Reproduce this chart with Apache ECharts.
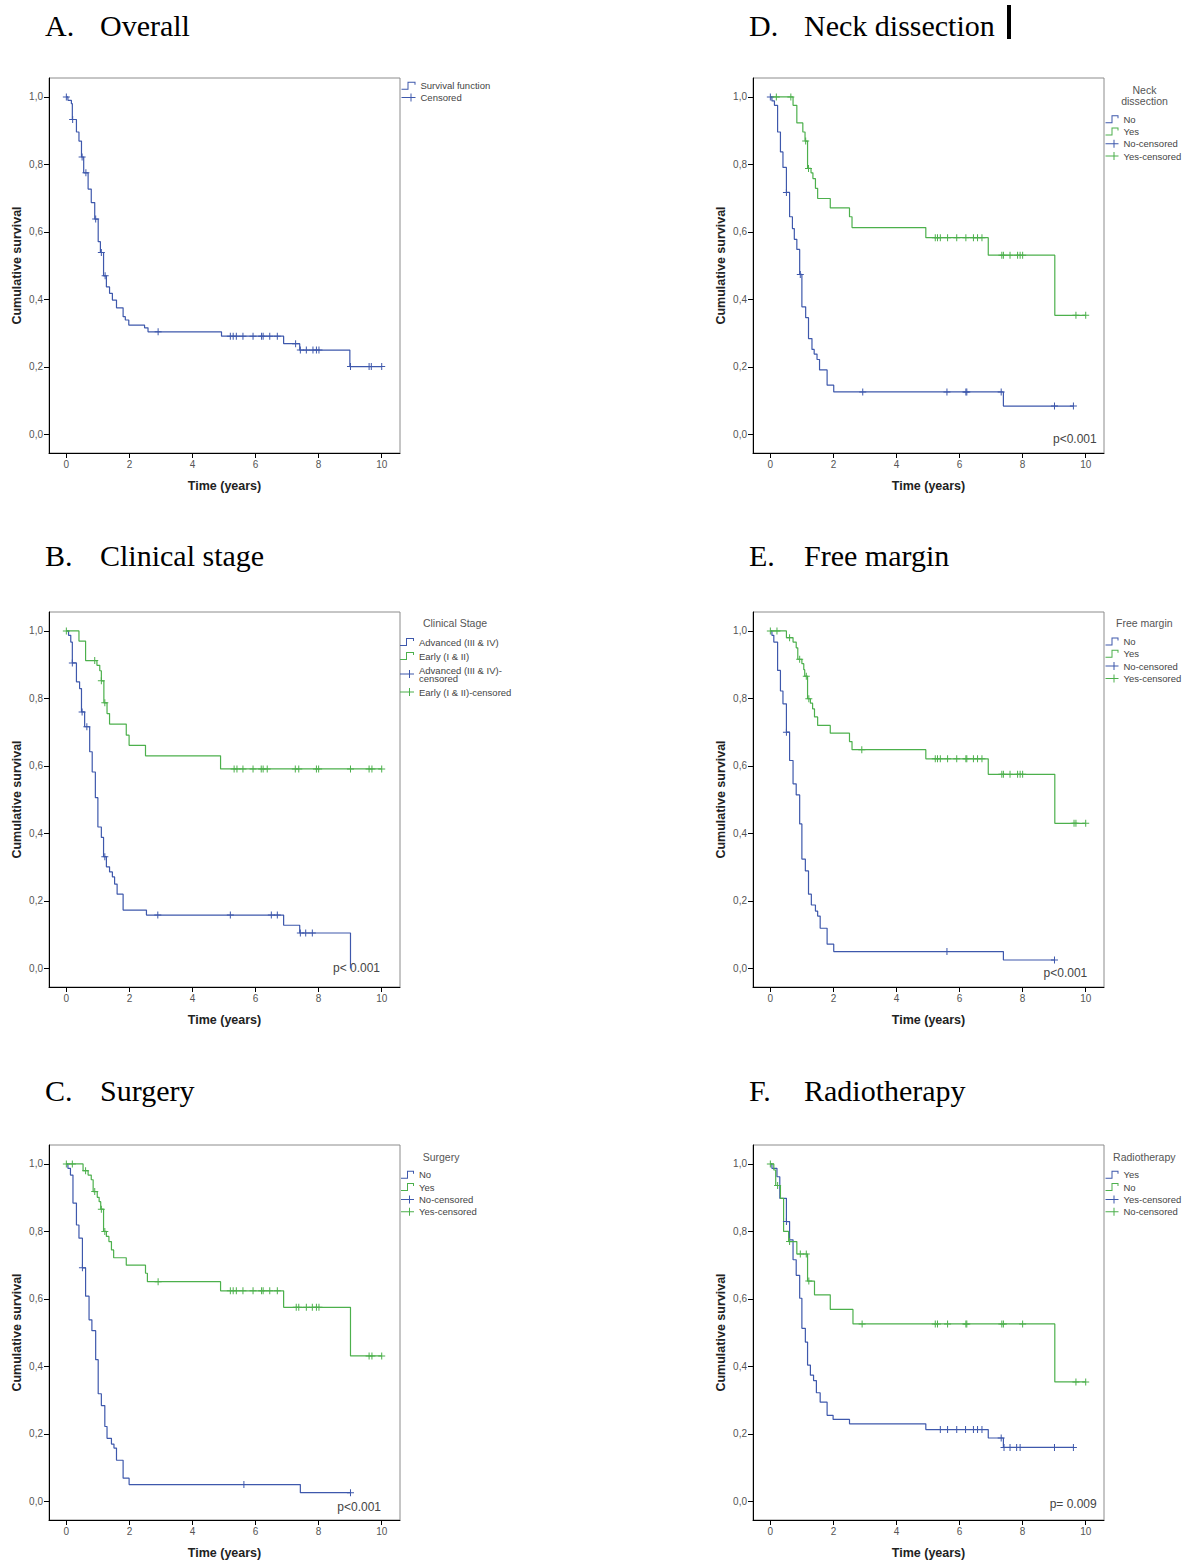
<!DOCTYPE html>
<html>
<head>
<meta charset="utf-8">
<title>Kaplan-Meier survival curves</title>
<script src="https://cdn.jsdelivr.net/npm/echarts@6/dist/echarts.min.js"></script>
<style>
  html, body { margin: 0; padding: 0; background: #fff; }
  #km { width: 1194px; height: 1562px; }
</style>
</head>
<body>
<div id="km"></div>
<script>
// tick labels
var xTickValues = [0, 2, 4, 6, 8, 10];
var yTickValues = [0, 0.2, 0.4, 0.6, 0.8, 1.0];

// A. Overall
var overallTimes = [0.05, 0.16, 0.19, 0.32, 0.40, 0.48, 0.55, 0.69, 0.79, 0.90, 1.01, 1.08, 1.18, 1.27, 1.37, 1.46, 1.59, 1.80, 1.87, 1.98, 2.48, 2.59, 4.92, 6.89, 7.40, 8.99];
var overallSurv = [0.990, 0.980, 0.933, 0.896, 0.869, 0.822, 0.775, 0.727, 0.687, 0.638, 0.571, 0.539, 0.470, 0.437, 0.418, 0.398, 0.375, 0.349, 0.339, 0.324, 0.316, 0.304, 0.291, 0.269, 0.250, 0.201];
var overallCens = [0, 0.20, 0.50, 0.62, 0.93, 1.11, 1.23, 2.91, 5.20, 5.29, 5.39, 5.60, 5.92, 6.19, 6.24, 6.45, 6.69, 7.27, 7.42, 7.61, 7.82, 7.93, 8.01, 9.01, 9.60, 9.67, 10.0];

// B. Clinical stage
var stageAdvTimes = [0.07, 0.14, 0.19, 0.32, 0.42, 0.48, 0.58, 0.74, 0.82, 0.92, 1.00, 1.11, 1.18, 1.27, 1.37, 1.46, 1.53, 1.61, 1.80, 2.54, 6.89, 7.40, 9.01];
var stageAdvSurv = [0.987, 0.967, 0.905, 0.849, 0.829, 0.760, 0.716, 0.642, 0.582, 0.506, 0.419, 0.388, 0.331, 0.301, 0.286, 0.271, 0.250, 0.220, 0.173, 0.158, 0.128, 0.105, 0.0];
var stageAdvCens = [0.19, 0.50, 0.65, 1.22, 2.90, 5.20, 6.50, 6.69, 7.42, 7.59, 7.80];
var stageEarlyTimes = [0.40, 0.61, 0.97, 1.06, 1.11, 1.19, 1.29, 1.37, 1.90, 1.99, 2.51, 4.89];
var stageEarlySurv = [0.970, 0.912, 0.898, 0.882, 0.852, 0.787, 0.755, 0.724, 0.691, 0.661, 0.630, 0.591];
var stageEarlyCens = [0, 0.90, 1.11, 1.22, 5.32, 5.41, 5.60, 5.92, 6.18, 6.24, 6.37, 7.26, 7.37, 7.93, 8.00, 9.01, 9.60, 9.69, 10.0];

// C. Surgery
var surgNoTimes = [0.05, 0.13, 0.21, 0.32, 0.40, 0.51, 0.61, 0.72, 0.81, 0.93, 1.01, 1.11, 1.22, 1.29, 1.43, 1.51, 1.59, 1.80, 1.99, 7.42];
var surgNoSurv = [0.987, 0.967, 0.884, 0.819, 0.780, 0.692, 0.608, 0.538, 0.506, 0.420, 0.319, 0.284, 0.222, 0.187, 0.170, 0.158, 0.122, 0.069, 0.050, 0.026];
var surgNoCens = [0.51, 5.63, 9.01];
var surgYesTimes = [0.53, 0.69, 0.79, 0.85, 0.98, 1.04, 1.09, 1.18, 1.27, 1.35, 1.43, 1.50, 1.90, 2.51, 2.57, 4.89, 6.89, 9.01];
var surgYesSurv = [0.980, 0.967, 0.953, 0.918, 0.901, 0.888, 0.866, 0.800, 0.785, 0.770, 0.745, 0.722, 0.700, 0.676, 0.651, 0.624, 0.575, 0.431];
var surgYesCens = [0, 0.19, 0.61, 0.90, 1.11, 1.22, 2.91, 5.20, 5.29, 5.39, 5.60, 5.92, 6.19, 6.24, 6.45, 6.69, 7.29, 7.37, 7.61, 7.80, 7.93, 8.01, 9.60, 9.69, 10.0];

// D. Neck dissection
var neckNoTimes = [0.05, 0.13, 0.23, 0.32, 0.40, 0.51, 0.61, 0.70, 0.76, 0.84, 0.93, 1.00, 1.12, 1.21, 1.32, 1.39, 1.48, 1.56, 1.80, 2.01, 7.39];
var neckNoSurv = [0.988, 0.975, 0.896, 0.837, 0.791, 0.717, 0.645, 0.610, 0.578, 0.548, 0.474, 0.378, 0.346, 0.284, 0.252, 0.238, 0.222, 0.191, 0.146, 0.126, 0.084];
var neckNoCens = [0, 0.51, 0.95, 2.93, 5.60, 6.20, 6.23, 7.32, 9.01, 9.61];
var neckYesTimes = [0.72, 0.84, 1.03, 1.10, 1.18, 1.29, 1.35, 1.43, 1.50, 1.90, 2.51, 2.59, 4.93, 6.91, 9.02];
var neckYesSurv = [0.975, 0.923, 0.896, 0.869, 0.788, 0.775, 0.758, 0.729, 0.699, 0.671, 0.645, 0.613, 0.583, 0.531, 0.353];
var neckYesCens = [0.19, 0.65, 1.12, 1.21, 5.23, 5.30, 5.39, 5.62, 5.91, 6.20, 6.44, 6.57, 6.71, 7.34, 7.39, 7.60, 7.84, 7.92, 8.00, 9.69, 10.0];

// E. Free margin
var marginNoTimes = [0.05, 0.11, 0.23, 0.32, 0.40, 0.51, 0.61, 0.72, 0.82, 0.93, 1.00, 1.11, 1.21, 1.30, 1.43, 1.50, 1.58, 1.80, 2.01, 7.39];
var marginNoSurv = [0.987, 0.967, 0.883, 0.822, 0.784, 0.700, 0.616, 0.547, 0.514, 0.428, 0.324, 0.289, 0.220, 0.188, 0.170, 0.155, 0.119, 0.072, 0.050, 0.025];
var marginNoCens = [0.51, 5.60, 9.01];
var marginYesTimes = [0.51, 0.72, 0.82, 0.87, 1.00, 1.06, 1.09, 1.18, 1.27, 1.34, 1.40, 1.50, 1.90, 2.51, 2.59, 4.93, 6.91, 9.02];
var marginYesSurv = [0.980, 0.967, 0.950, 0.916, 0.903, 0.885, 0.866, 0.799, 0.786, 0.769, 0.745, 0.720, 0.697, 0.672, 0.648, 0.621, 0.575, 0.430];
var marginYesCens = [0, 0.21, 0.61, 0.93, 1.14, 1.22, 2.90, 5.23, 5.30, 5.39, 5.62, 5.91, 6.20, 6.23, 6.44, 6.57, 6.71, 7.34, 7.39, 7.60, 7.84, 7.92, 8.00, 9.63, 9.69, 10.0];

// F. Radiotherapy
var radioYesTimes = [0.05, 0.21, 0.30, 0.51, 0.61, 0.72, 0.82, 0.93, 1.00, 1.11, 1.18, 1.27, 1.37, 1.46, 1.58, 1.80, 1.99, 2.51, 4.93, 6.91, 7.39];
var radioYesSurv = [0.987, 0.962, 0.898, 0.829, 0.775, 0.716, 0.670, 0.602, 0.513, 0.472, 0.404, 0.374, 0.358, 0.322, 0.294, 0.255, 0.243, 0.230, 0.213, 0.188, 0.160];
var radioYesCens = [0.51, 5.39, 5.62, 5.91, 6.19, 6.44, 6.57, 6.71, 7.32, 7.41, 7.60, 7.81, 7.92, 9.01, 9.61];
var radioNoTimes = [0.11, 0.17, 0.32, 0.42, 0.58, 0.84, 1.18, 1.40, 1.90, 2.62, 9.02];
var radioNoSurv = [0.982, 0.936, 0.898, 0.800, 0.770, 0.733, 0.653, 0.612, 0.569, 0.526, 0.354];
var radioNoCens = [0, 0.23, 0.61, 0.95, 1.14, 1.22, 2.91, 5.23, 5.30, 5.62, 6.20, 6.23, 7.34, 7.39, 8.00, 9.69, 10.0];

var BLUE = '#3e58ac';
var GREEN = '#4cb04c';
var SANS = '"Liberation Sans", Arial, sans-serif';
var SERIF = '"Liberation Serif", "Times New Roman", serif';
var PLUS = 'path://M3,0 L4,0 L4,3 L7,3 L7,4 L4,4 L4,7 L3,7 L3,4 L0,4 L0,3 L3,3 Z';

// survival level just after time t
function survAt(times, surv, t) {
	var s = 1;
	for (var i = 0; i < times.length; i++) {
		if (times[i] <= t + 1e-9) s = surv[i];
	}
	return s;
}
function stepPoints(times, surv, cens) {
	var pts = [[0, 1]];
	for (var i = 0; i < times.length; i++) pts.push([times[i], surv[i]]);
	var lastC = cens.length ? cens[cens.length - 1] : 0;
	if (lastC > times[times.length - 1]) pts.push([lastC, surv[surv.length - 1]]);
	return pts;
}
function censPoints(times, surv, cens) {
	return cens.map(function (t) { return [t, survAt(times, surv, t)]; });
}
// SPSS-like legend glyphs, drawn as 1px outlines
function stepIcon(w) {
	var m = Math.round(w * 0.45);
	return 'path://M0,7 L' + m + ',7 L' + m + ',0 L' + w + ',0 L' + w + ',3 L' + (w - 1) + ',3 L' + (w - 1) + ',1 L' + (m + 1) + ',1 L' + (m + 1) + ',8 L0,8 Z';
}
function plusIcon(w) {
	var m = Math.round(w * 0.65);
	return 'path://M0,3.5 L' + m + ',3.5 L' + m + ',0 L' + (m + 1) + ',0 L' + (m + 1) + ',3.5 L' + w + ',3.5 L' + w + ',4.5 L' + (m + 1) + ',4.5 L' + (m + 1) + ',8 L' + m + ',8 L' + m + ',4.5 L0,4.5 Z';
}

/* panel layout */
var panels = [
	{ key: 'A', letter: 'A.', title: 'Overall', left: 49, top: 78, hx: 45, hy: 25.5,
	  lg: { left: 401.5, top: 80.8, iw: 14, lh: 9, gap: 1.7 },
	  groups: [{ name: 'Survival function', cens: 'Censored', color: BLUE, t: overallTimes, s: overallSurv, c: overallCens }] },
	{ key: 'B', letter: 'B.', title: 'Clinical stage', left: 49, top: 612, hx: 45, hy: 555.5,
	  lg: { left: 400, top: 637, iw: 14, lh: 8, gap: 4 }, head: 'Clinical Stage', headX: 455, headY: 623.3,
	  pval: 'p< 0.001', px: 380, py: 968.3,
	  groups: [{ name: 'Advanced (III & IV)', cens: 'Advanced (III & IV)-censored', label: 'Advanced (III & IV)-\ncensored', color: BLUE, t: stageAdvTimes, s: stageAdvSurv, c: stageAdvCens },
	           { name: 'Early (I & II)', cens: 'Early (I & II)-censored', color: GREEN, t: stageEarlyTimes, s: stageEarlySurv, c: stageEarlyCens }] },
	{ key: 'C', letter: 'C.', title: 'Surgery', left: 49, top: 1145, hx: 45, hy: 1090.5,
	  lg: { left: 401, top: 1169.8, iw: 13, lh: 9, gap: 2.3 }, head: 'Surgery', headX: 441, headY: 1157.3,
	  pval: 'p<0.001', px: 381, py: 1507.3,
	  groups: [{ name: 'No', cens: 'No-censored', color: BLUE, t: surgNoTimes, s: surgNoSurv, c: surgNoCens },
	           { name: 'Yes', cens: 'Yes-censored', color: GREEN, t: surgYesTimes, s: surgYesSurv, c: surgYesCens }] },
	{ key: 'D', letter: 'D.', title: 'Neck dissection', left: 753, top: 78, hx: 749, hy: 25.5,
	  lg: { left: 1105.5, top: 114.2, iw: 13, lh: 9, gap: 2.3 }, head: 'Neck\ndissection', headX: 1144.5, headY: 95.5,
	  pval: 'p<0.001', px: 1096.7, py: 439,
	  groups: [{ name: 'No', cens: 'No-censored', color: BLUE, t: neckNoTimes, s: neckNoSurv, c: neckNoCens },
	           { name: 'Yes', cens: 'Yes-censored', color: GREEN, t: neckYesTimes, s: neckYesSurv, c: neckYesCens }] },
	{ key: 'E', letter: 'E.', title: 'Free margin', left: 753, top: 612, hx: 749, hy: 555.5,
	  lg: { left: 1105.5, top: 636.5, iw: 13, lh: 9, gap: 2.3 }, head: 'Free margin', headX: 1144.3, headY: 623.3,
	  pval: 'p<0.001', px: 1087.3, py: 973.3,
	  groups: [{ name: 'No', cens: 'No-censored', color: BLUE, t: marginNoTimes, s: marginNoSurv, c: marginNoCens },
	           { name: 'Yes', cens: 'Yes-censored', color: GREEN, t: marginYesTimes, s: marginYesSurv, c: marginYesCens }] },
	{ key: 'F', letter: 'F.', title: 'Radiotherapy', left: 753, top: 1145, hx: 749, hy: 1090.5,
	  lg: { left: 1105.5, top: 1169.8, iw: 13, lh: 9, gap: 2.3 }, head: 'Radiotherapy', headX: 1144.3, headY: 1157.3,
	  pval: 'p= 0.009', px: 1096.7, py: 1504.3,
	  groups: [{ name: 'Yes', cens: 'Yes-censored', color: BLUE, t: radioYesTimes, s: radioYesSurv, c: radioYesCens },
	           { name: 'No', cens: 'No-censored', color: GREEN, t: radioNoTimes, s: radioNoSurv, c: radioNoCens }] }
];

var chart = echarts.init(document.getElementById('km'), null, { renderer: 'svg' });

var grids = [], xAxes = [], yAxes = [], legends = [], series = [], graphics = [];
var labelMap = {};

panels.forEach(function (p, i) {
	grids.push({
		left: p.left, top: p.top, width: 351, height: 375,
		show: true, borderColor: '#8c8c8c', borderWidth: 1,
		containLabel: false, outerBoundsMode: 'none'
	});
	xAxes.push({
		type: 'value', gridIndex: i, min: -0.55, max: 10.58,
		name: 'Time (years)', nameLocation: 'middle', nameGap: 26,
		nameTextStyle: { fontFamily: SANS, fontSize: 12.5, fontWeight: 'bold', color: '#222' },
		axisLine: { show: true, onZero: false, lineStyle: { color: '#000', width: 1 } },
		axisTick: { show: true, customValues: xTickValues, length: 5, inside: false, lineStyle: { color: '#000' } },
		axisLabel: { customValues: xTickValues, margin: 6, fontSize: 10, color: '#555', fontFamily: SANS },
		splitLine: { show: false }
	});
	yAxes.push({
		type: 'value', gridIndex: i, min: -0.055, max: 1.056,
		name: 'Cumulative survival', nameLocation: 'middle', nameGap: 26,
		nameTextStyle: { fontFamily: SANS, fontSize: 12.5, fontWeight: 'bold', color: '#222' },
		axisLine: { show: true, onZero: false, lineStyle: { color: '#000', width: 1 } },
		axisTick: { show: true, customValues: yTickValues, length: 5, inside: false, lineStyle: { color: '#000' } },
		axisLabel: {
			customValues: yTickValues, margin: 6, fontSize: 10, color: '#555', fontFamily: SANS,
			formatter: function (v) { return v.toFixed(1).replace('.', ','); }
		},
		splitLine: { show: false }
	});

	var lineNames = [], censNames = [];
	p.groups.forEach(function (g) {
		var ln = p.key + '|' + g.name, cn = p.key + '|' + g.cens;
		if (g.label) labelMap[cn] = g.label;
		lineNames.push({ name: ln, icon: stepIcon(p.lg.iw) });
		censNames.push({ name: cn, icon: plusIcon(p.lg.iw) });
		series.push({
			type: 'line', name: ln, xAxisIndex: i, yAxisIndex: i,
			step: 'end', symbol: 'none', showSymbol: false,
			lineStyle: { color: g.color, width: 1.2 },
			itemStyle: { color: g.color },
			data: stepPoints(g.t, g.s, g.c)
		});
		series.push({
			type: 'scatter', name: cn, xAxisIndex: i, yAxisIndex: i,
			symbol: PLUS, symbolSize: 7,
			itemStyle: { color: g.color, opacity: 1 },
			data: censPoints(g.t, g.s, g.c),
			z: 3
		});
	});

	legends.push({
		orient: 'vertical', left: p.lg.left, top: p.lg.top, padding: 0,
		itemWidth: p.lg.iw, itemHeight: 8, itemGap: p.lg.gap,
		selectedMode: false, symbolKeepAspect: false,
		itemStyle: { borderWidth: 0 },
		textStyle: { fontFamily: SANS, fontSize: 9.5, color: '#444', lineHeight: p.lg.lh },
		formatter: function (name) { return labelMap[name] || name.split('|')[1]; },
		data: lineNames.concat(censNames)
	});

	// panel heading
	graphics.push({ type: 'text', x: p.hx, y: p.hy, style: { text: p.letter, font: '30px ' + SERIF, fill: '#000', textAlign: 'left', textVerticalAlign: 'middle' } });
	graphics.push({ type: 'text', x: p.hx + 55, y: p.hy, style: { text: p.title, font: '30px ' + SERIF, fill: '#000', textAlign: 'left', textVerticalAlign: 'middle' } });
	if (p.head) {
		graphics.push({ type: 'text', x: p.headX, y: p.headY, style: { text: p.head, font: '10.5px ' + SANS, fill: '#555', lineHeight: 11, textAlign: 'center', textVerticalAlign: 'middle' } });
	}
	if (p.pval) {
		graphics.push({ type: 'text', x: p.px, y: p.py, style: { text: p.pval, font: '12px ' + SANS, fill: '#444', textAlign: 'right', textVerticalAlign: 'middle' } });
	}
});

// text cursor left after the D heading
graphics.push({ type: 'rect', shape: { x: 1007, y: 5, width: 4, height: 34 }, style: { fill: '#000' } });

var option = {
	animation: false,
	backgroundColor: '#fff',
	grid: grids,
	xAxis: xAxes,
	yAxis: yAxes,
	legend: legends,
	graphic: graphics,
	series: series
};
chart.setOption(option);
</script>
</body>
</html>
